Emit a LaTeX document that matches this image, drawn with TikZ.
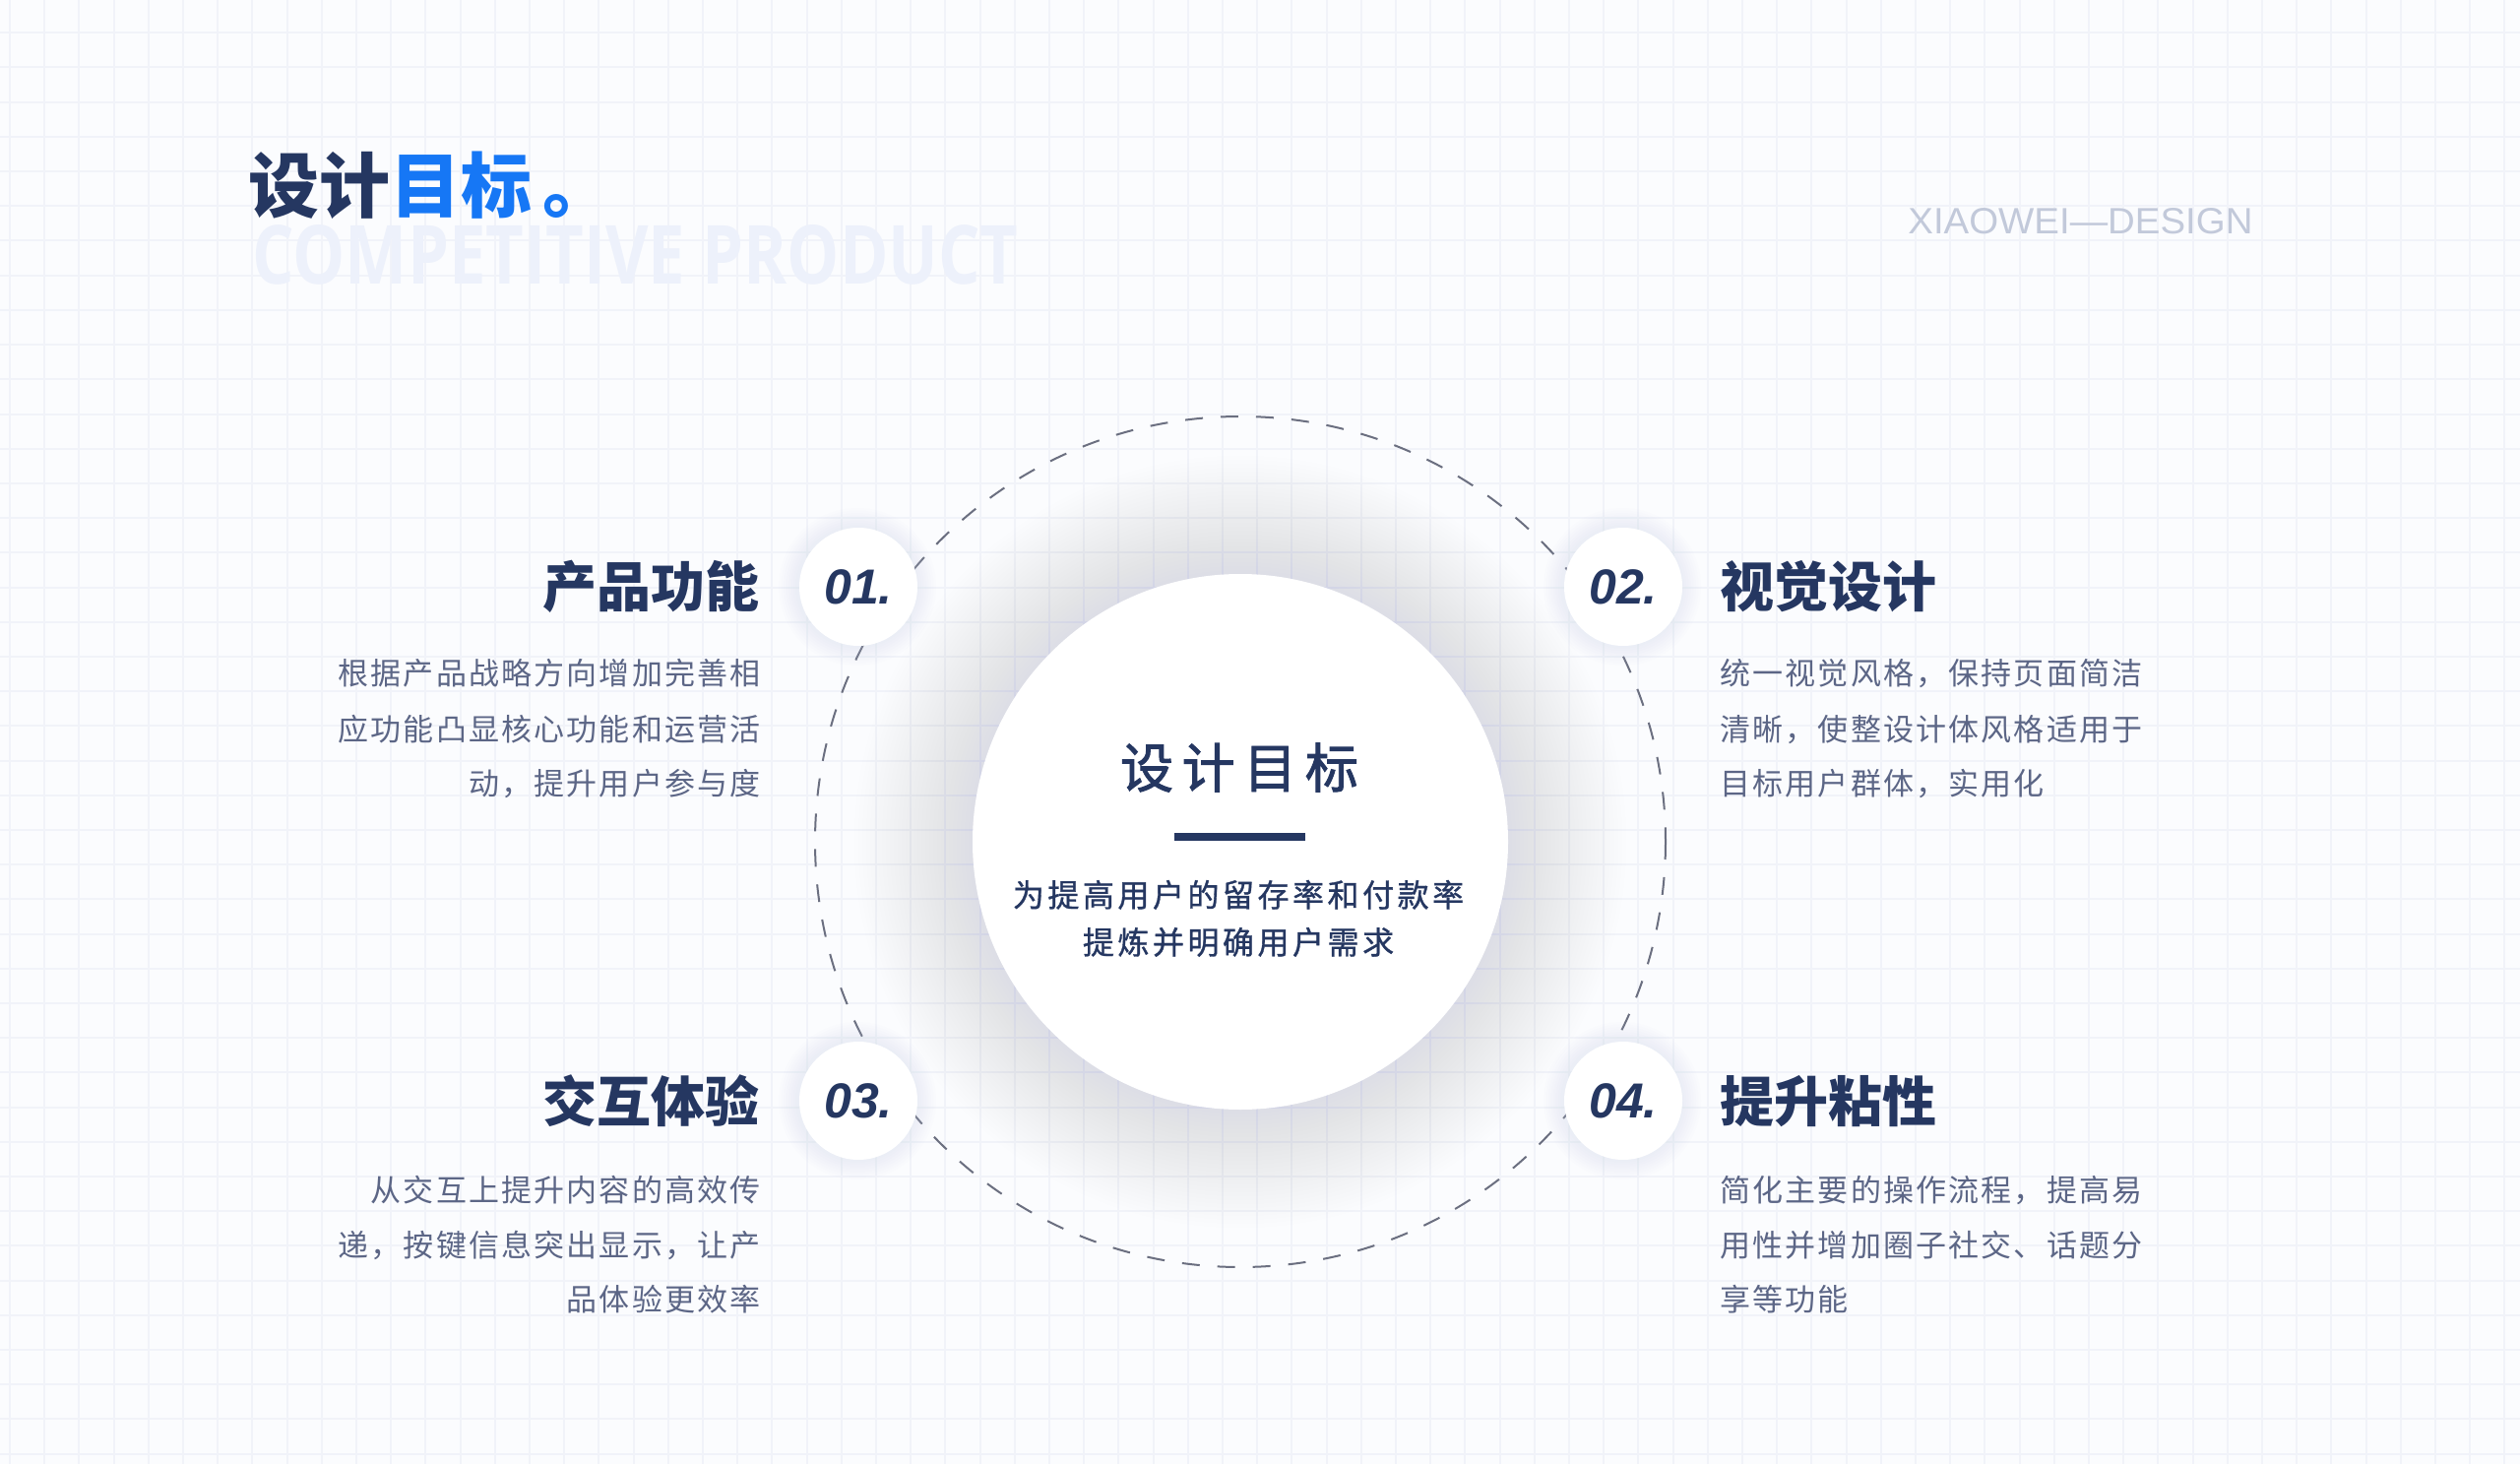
\documentclass[tikz,border=0pt]{standalone}
\usepackage{fontspec}
\setmainfont{Liberation Sans}
\newfontfamily\cjk{Noto Sans CJK SC}
\newfontfamily\cjkls[LetterSpace=7]{Noto Sans CJK SC}
\newfontfamily\cjkcore[LetterSpace=16,BoldFont={Noto Sans CJK SC},BoldFeatures={FakeBold=1.8}]{Noto Sans CJK SC}
\newfontfamily\cjksub[LetterSpace=11,BoldFont={Noto Sans CJK SC},BoldFeatures={FakeBold=1.0}]{Noto Sans CJK SC}
\newfontfamily\wmfont{Open Sans}
\newfontfamily\numfont{Liberation Sans}
\definecolor{bgc}{HTML}{FBFCFE}
\definecolor{gridc}{HTML}{F1F3F9}
\definecolor{navy}{HTML}{253761}
\definecolor{brandblue}{HTML}{1677F5}
\definecolor{desc}{HTML}{5C6686}
\definecolor{wm}{HTML}{EDF1FB}
\definecolor{xw}{HTML}{C2C9DA}
\definecolor{dashc}{HTML}{6B6F80}
\definecolor{halo}{HTML}{C9D1E6}
\tikzset{
  heading/.style={font=\cjk\bfseries\fontsize{27.5pt}{30pt}\selectfont, text=navy, inner sep=0pt},
  para/.style={font=\cjkls\fontsize{15.5pt}{18pt}\selectfont, text=desc, inner sep=0pt},
  numdisc/.style={circle, fill=white, minimum size=60pt, inner sep=0pt, text=navy,
    font=\numfont\bfseries\itshape\fontsize{25pt}{27pt}\selectfont},
}
\begin{document}
\begin{tikzpicture}[x=0.5pt,y=-0.5pt]
\fill[bgc] (0,0) rectangle (2560,1487);
\useasboundingbox (0,0) rectangle (2560,1487);
\foreach \i in {0,...,72} \draw[gridc,line width=1pt] ({10+35.2*\i},0) -- ++(0,1487);
\foreach \j in {0,...,42} \draw[gridc,line width=1pt] (0,{-1.9+35.2*\j}) -- ++(2560,0);

% title
\node[anchor=base west, inner sep=0pt, font=\cjk\bfseries\fontsize{36pt}{38pt}\selectfont] (title) at (252,216)
  {\textcolor{navy}{设计}\textcolor{brandblue}{目标\kern0.16em 。}};
\node[anchor=base west, inner sep=0pt, text=wm, font=\wmfont\bfseries] (wmark) at (256,289)
  {\resizebox{389pt}{30pt}{COMPETITIVE PRODUCT}};
\node[anchor=base west, inner sep=0pt, text=xw, font=\numfont] (brand) at (1938,238)
  {\resizebox{175pt}{13pt}{XIAOWEI—DESIGN}};

% halo of central disc
\foreach \k in {1,...,30} \fill[halo,opacity=0.009] (1260,855) circle ({272+4*\k});
% dashed ring
\draw[dashc, line width=1pt, dash pattern=on 9pt off 9pt] (1260,855) circle (432);
% central disc
\node[circle, fill=white, minimum size=272pt, inner sep=0pt] (core) at (1260,855) {};
\node[anchor=base, inner sep=0pt, text=navy, font=\cjkcore\bfseries\fontsize{27pt}{30pt}\selectfont] (coretitle) at (1259,800) {设计目标};
\fill[navy] (1193,846) rectangle (1326,854);
\node[anchor=base, inner sep=0pt, text=navy, font=\cjksub\bfseries\fontsize{16pt}{18pt}\selectfont] (sub1) at (1258,921) {为提高用户的留存率和付款率};
\node[anchor=base, inner sep=0pt, text=navy, font=\cjksub\bfseries\fontsize{16pt}{18pt}\selectfont] (sub2) at (1258,969) {提炼并明确用户需求};

% number discs with soft shadow
\foreach \p in {(871,596),(1648,596),(871,1118),(1648,1118)}
  \foreach \k in {1,...,8} \fill[halo,opacity=0.03] \p circle ({60+2.5*\k});
\node[numdisc] (n1) at (872,596) {01.};
\node[numdisc] (n2) at (1649,596) {02.};
\node[numdisc] (n3) at (872,1118) {03.};
\node[numdisc] (n4) at (1649,1118) {04.};

% headings
\node[heading, anchor=base east] (h1) at (772,616) {产品功能};
\node[heading, anchor=base west] (h2) at (1747,616) {视觉设计};
\node[heading, anchor=base east] (h3) at (772,1139) {交互体验};
\node[heading, anchor=base west] (h4) at (1747,1139) {提升粘性};

% paragraphs
\node[para, anchor=base east] (p1a) at (773,695) {根据产品战略方向增加完善相};
\node[para, anchor=base east] (p1b) at (773,752) {应功能凸显核心功能和运营活};
\node[para, anchor=base east] (p1c) at (773,807) {动，提升用户参与度};
\node[para, anchor=base west] (p2a) at (1747,695) {统一视觉风格，保持页面简洁};
\node[para, anchor=base west] (p2b) at (1747,752) {清晰，使整设计体风格适用于};
\node[para, anchor=base west] (p2c) at (1747,807) {目标用户群体，实用化};
\node[para, anchor=base east] (p3a) at (773,1220) {从交互上提升内容的高效传};
\node[para, anchor=base east] (p3b) at (773,1276) {递，按键信息突出显示，让产};
\node[para, anchor=base east] (p3c) at (773,1331) {品体验更效率};
\node[para, anchor=base west] (p4a) at (1747,1220) {简化主要的操作流程，提高易};
\node[para, anchor=base west] (p4b) at (1747,1276) {用性并增加圈子社交、话题分};
\node[para, anchor=base west] (p4c) at (1747,1331) {享等功能};
\end{tikzpicture}
\end{document}
